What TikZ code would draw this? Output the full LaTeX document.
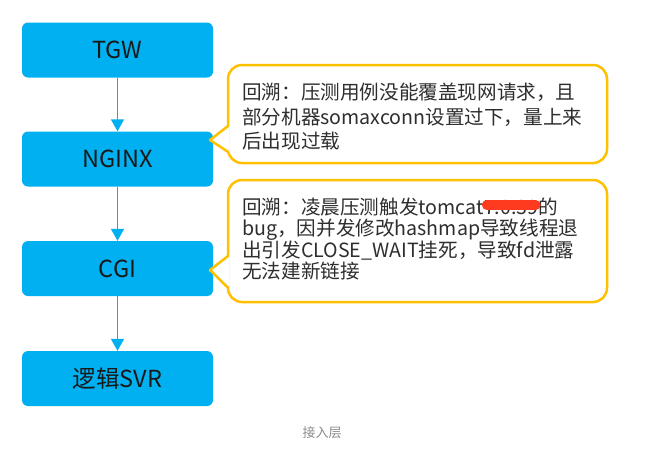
\documentclass[tikz,border=0pt]{standalone}
\usepackage{fontspec}
\setmainfont{Noto Sans CJK SC}
\usetikzlibrary{arrows.meta}
\definecolor{boxblue}{HTML}{00B0F0}
\definecolor{gold}{HTML}{FFC000}
\definecolor{txtgray}{HTML}{2E2E2E}
\definecolor{capgray}{HTML}{8C8C8C}
\definecolor{redact}{HTML}{FF3B1F}
\tikzset{
  flowbox/.style={fill=boxblue, rounded corners=6pt, minimum width=191pt, minimum height=55pt,
    inner sep=0pt, text=black!90, font=\fontsize{23.5}{26}\selectfont},
  flowarrow/.style={draw=boxblue, line width=1.5pt, -{Triangle[width=13pt,length=12pt]}},
  calloutbox/.style={draw=gold, line width=2.5pt, fill=white, rounded corners=14pt},
  calloutptr/.style={draw=gold, line width=2.5pt, line join=round, line cap=round},
  cline/.style={anchor=base west, inner sep=0pt, text=txtgray, font=\fontsize{19.6}{22}\selectfont},
}
\begin{document}
\begin{tikzpicture}[x=1pt, y=-1pt]
\useasboundingbox[fill=white] (0,0) rectangle (645,451);

% flow boxes
\node[flowbox] (tgw)   at (117.5,50)  {TGW};
\node[flowbox] (nginx) at (117.5,159) {NGINX};
\node[flowbox] (cgi)   at (117.5,268.5) {CGI};
\node[flowbox] (svr)   at (117.5,378.5) {逻辑SVR};

\draw[flowarrow] (tgw) -- (nginx);
\draw[flowarrow] (nginx) -- (cgi);
\draw[flowarrow] (cgi) -- (svr);

% callout 1
\draw[calloutbox] (228,65) rectangle (607,163);
\fill[white] (210,140) -- (229.6,125.5) -- (229.6,152.5) -- cycle;
\draw[calloutptr] (228,126) -- (210,140) -- (228.3,152);

\node[cline] (c1a) at (242,99)  {回溯：压测用例没能覆盖现网请求，且};
\node[cline] (c1b) at (242,124) {部分机器somaxconn设置过下，量上来};
\node[cline] (c1c) at (242,148) {后出现过载};

% callout 2
\draw[calloutbox] (228,180) rectangle (607,302);
\fill[white] (210,270) -- (229.6,255.5) -- (229.6,288.5) -- cycle;
\draw[calloutptr] (228,256) -- (210,270) -- (228.3,288);

\node[cline] (c2a) at (242,214) {回溯：凌晨压测触发tomcat};
\node[cline] (c2r) at (c2a.base east) {7.0.39};
\node[cline] (c2d) at (c2r.base east) {的};
\draw[redact, line width=10pt, line cap=round] ([xshift=3pt,yshift=9pt]c2r.base west) -- ([xshift=-3pt,yshift=9pt]c2r.base east);
\node[cline] (c2b) at (242,235.5) {bug，因并发修改hashmap导致线程退};
\node[cline] (c2c) at (242,257)   {出引发CLOSE\_WAIT挂死，导致fd泄露};
\node[cline] (c2e) at (242,278)   {无法建新链接};

% caption
\node[text=capgray, font=\fontsize{13}{15}\selectfont] (cap) at (322,433) {接入层};
\end{tikzpicture}
\end{document}
